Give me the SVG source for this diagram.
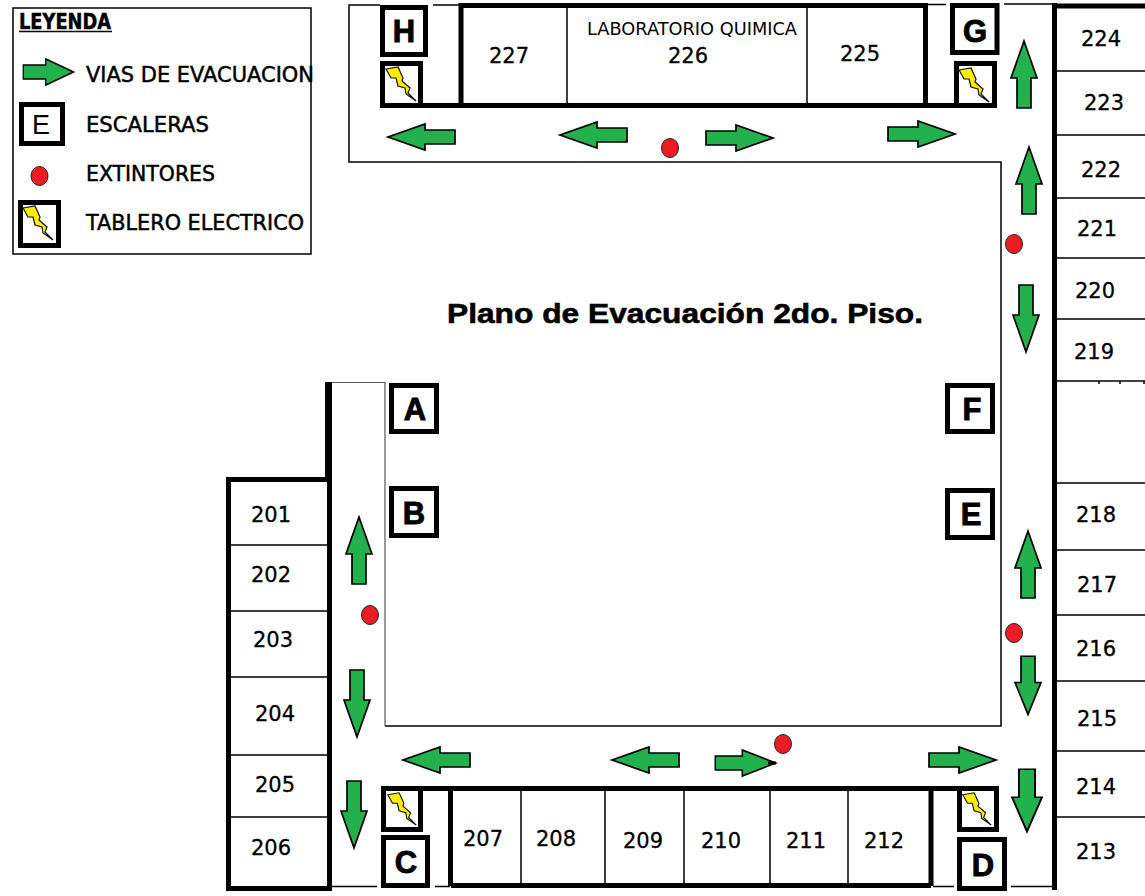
<svg xmlns="http://www.w3.org/2000/svg" width="1145" height="896" viewBox="0 0 1145 896">
<style>
.room{font-size:21px;text-anchor:middle;font-family:"DejaVu Sans",sans-serif;fill:#000;stroke:#000;stroke-width:.3}
.leg{font-size:21px;font-family:"DejaVu Sans",sans-serif;fill:#000;stroke:#000;stroke-width:.5}
.letter{font-size:31px;font-weight:bold;text-anchor:middle;font-family:"Liberation Sans",sans-serif;fill:#000;stroke:#000;stroke-width:.9}
.box{fill:#fff;stroke:#000;stroke-width:5}
.thick{stroke:#000;stroke-width:5;fill:none}
.thin{stroke:#000;stroke-width:1.5;fill:none}
.gray{stroke:#555;stroke-width:1.2;fill:none}
.ar{fill:#22b14c;stroke:#000;stroke-width:1.7}
.ext{fill:#ed1c24;stroke:#222;stroke-width:1}
</style>
<defs>
<polygon id="a" class="ar" points="-33,-7 -3,-7 -3,-13 34,0 -3,13 -3,7 -33,7"/>
<g id="bolt"><polygon points="-15,-14 -3,-16 2,-5 1,-2 9,5 7,10 15,18 5,11 4,5 -3,3 -5,-5 -10,-5" fill="#ffed00" stroke="#111" stroke-width="1.2"/></g>
</defs>
<rect width="1145" height="896" fill="#fff"/>
<g id="connectors">
<path class="thin" d="M380 5H349V162H1001V726H385"/>
<path class="gray" d="M385 726V382.500H330"/>
<path class="thin" d="M433 5H459M928 4.500H946M1004 4H1055M332 886.500H377M435 886.500H450M933 886.500H954M1011 886.500H1053"/>
<path class="thick" d="M459 5.500H928M461 3V104M925.500 3V104M380 105.500H997M1054.500 3V890M1054.500 6H1145M228.500 479.500V890M329.500 480V890M226 479.500H332M226 888.500H332M381 788.500H999M450.500 787V886M931 787V886M451 885.500H931"/>
<path stroke="#000" stroke-width="7" fill="none" d="M328.500 382V481"/>
<path class="thin" d="M567 6V104M807 6V104M1057 71H1145M1057 135H1145M1057 198H1145M1057 258H1145M1057 319H1145M1057 381H1145M1057 483H1145M1057 550H1145M1057 615H1145M1057 681H1145M1057 751H1145M1057 817H1145M231 545H329M231 611H329M231 677H329M231 755H329M231 817H329M521 787V885M605 787V885M684 787V885M770 787V885M848 787V885M1099 381V384M1120 381V384M1144 381V384"/>
</g>
<g id="legend">
<rect x="13" y="8" width="298" height="246" fill="#fff" stroke="#000" stroke-width="1.5"/>
<text x="19" y="29" class="leg" style="font-weight:bold" textLength="92" lengthAdjust="spacingAndGlyphs">LEYENDA</text>
<path d="M19 31.500H112" stroke="#000" stroke-width="1.500"/>
<use href="#a" transform="translate(48,72) scale(.75,1)"/>
<text x="86" y="82" class="leg" textLength="228" lengthAdjust="spacingAndGlyphs">VIAS DE EVACUACION</text>
<rect x="21.500" y="104.500" width="41" height="39" class="box"/>
<text x="41" y="134" style="font-size:27px;text-anchor:middle;font-family:'Liberation Sans',sans-serif">E</text>
<text x="86" y="132" class="leg" textLength="123" lengthAdjust="spacingAndGlyphs">ESCALERAS</text>
<ellipse cx="39.500" cy="176" rx="8.500" ry="9.500" class="ext"/>
<text x="86" y="181" class="leg" textLength="129" lengthAdjust="spacingAndGlyphs">EXTINTORES</text>
<rect x="20.500" y="202.500" width="38" height="43" class="box"/>
<use href="#bolt" transform="translate(38,222)"/>
<text x="86" y="230" class="leg" textLength="218" lengthAdjust="spacingAndGlyphs">TABLERO ELECTRICO</text>
</g>
<text id="title" x="447" y="323" style="font-size:28px;font-weight:bold;font-family:'Liberation Sans',sans-serif;stroke:#000;stroke-width:.6" textLength="476" lengthAdjust="spacingAndGlyphs">Plano de Evacuación 2do. Piso.</text>
<g id="rooms">
<text x="509" y="63" class="room">227</text>
<text x="587" y="35" style="font-size:18px;font-family:'DejaVu Sans',sans-serif" textLength="210" lengthAdjust="spacingAndGlyphs">LABORATORIO QUIMICA</text>
<text x="688" y="63" class="room">226</text>
<text x="860" y="61" class="room">225</text>
<text x="1101" y="46" class="room">224</text>
<text x="1104" y="110" class="room">223</text>
<text x="1101" y="177" class="room">222</text>
<text x="1097" y="236" class="room">221</text>
<text x="1095" y="298" class="room">220</text>
<text x="1094" y="359" class="room">219</text>
<text x="1096" y="522" class="room">218</text>
<text x="1097" y="592" class="room">217</text>
<text x="1096" y="656" class="room">216</text>
<text x="1097" y="726" class="room">215</text>
<text x="1096" y="794" class="room">214</text>
<text x="1096" y="859" class="room">213</text>
<text x="271" y="522" class="room">201</text>
<text x="271" y="582" class="room">202</text>
<text x="273" y="647" class="room">203</text>
<text x="275" y="721" class="room">204</text>
<text x="275" y="792" class="room">205</text>
<text x="271" y="855" class="room">206</text>
<text x="483" y="846" class="room">207</text>
<text x="556" y="846" class="room">208</text>
<text x="643" y="848" class="room">209</text>
<text x="721" y="848" class="room">210</text>
<text x="806" y="848" class="room">211</text>
<text x="884" y="848" class="room">212</text>
</g>
<g id="stairs">
<g id="H"><rect x="382.500" y="7.500" width="43" height="47" class="box"/><text x="404" y="42" class="letter">H</text></g>
<g id="G"><rect x="952.500" y="5.500" width="44.500" height="47" class="box"/><text x="975" y="42" class="letter">G</text></g>
<g id="A"><rect x="391.500" y="385.500" width="45" height="46" class="box"/><text x="415" y="420" class="letter">A</text></g>
<g id="B"><rect x="391.500" y="488.500" width="45" height="47" class="box"/><text x="414" y="524" class="letter">B</text></g>
<g id="F"><rect x="947.500" y="385.500" width="45" height="46" class="box"/><text x="972" y="420" class="letter">F</text></g>
<g id="E"><rect x="947.500" y="490.500" width="45" height="47" class="box"/><text x="971" y="525" class="letter">E</text></g>
<g id="C"><rect x="383.500" y="837.500" width="44" height="48" class="box"/><text x="406" y="873" class="letter">C</text></g>
<g id="D"><rect x="959.500" y="839.500" width="45" height="49" class="box"/><text x="983" y="876" class="letter">D</text></g>
</g>
<g id="panels">
<g id="panel-H"><rect x="382.500" y="63.500" width="38" height="42" class="box"/><use href="#bolt" transform="translate(401,83)"/></g>
<g id="panel-G"><rect x="956.500" y="63.500" width="38" height="42" class="box"/><use href="#bolt" transform="translate(974,84)"/></g>
<g id="panel-C"><rect x="383.500" y="788.500" width="37" height="41" class="box"/><use href="#bolt" transform="translate(402,808) scale(.95)"/></g>
<g id="panel-D"><rect x="959.500" y="788.500" width="37" height="41" class="box"/><use href="#bolt" transform="translate(977,808) scale(.95)"/></g>
</g>
<g id="arrows">
<use href="#a" transform="translate(422,137) rotate(180)"/>
<use href="#a" transform="translate(594,135) rotate(180)"/>
<use href="#a" transform="translate(739,138)"/>
<use href="#a" transform="translate(921,134)"/>
<use href="#a" transform="translate(1024,75) rotate(-90)"/>
<use href="#a" transform="translate(1029,181) rotate(-90)"/>
<use href="#a" transform="translate(1026,318) rotate(90)"/>
<use href="#a" transform="translate(1028,565) rotate(-90)"/>
<use href="#a" transform="translate(1028,685) rotate(90) scale(.87,1)"/>
<use href="#a" transform="translate(1027,800) rotate(90) scale(.93,1.15)"/>
<use href="#a" transform="translate(962,760)"/>
<use href="#a" transform="translate(745,763) scale(.9,1)"/>
<path d="M768 763H776" stroke="#000" stroke-width="3"/>
<use href="#a" transform="translate(646,760) rotate(180)"/>
<use href="#a" transform="translate(437,760) rotate(180)"/>
<use href="#a" transform="translate(359,551) rotate(-90)"/>
<use href="#a" transform="translate(357,703) rotate(90)"/>
<use href="#a" transform="translate(354,814) rotate(90)"/>
</g>
<g id="extinguishers">
<ellipse cx="670" cy="148" rx="8.500" ry="9.500" class="ext"/>
<ellipse cx="1014" cy="244" rx="8.500" ry="9.500" class="ext"/>
<ellipse cx="370" cy="615" rx="8.500" ry="9.500" class="ext"/>
<ellipse cx="1014" cy="633" rx="8.500" ry="9.500" class="ext"/>
<ellipse cx="783" cy="744" rx="8.500" ry="9.500" class="ext"/>
</g>
</svg>
